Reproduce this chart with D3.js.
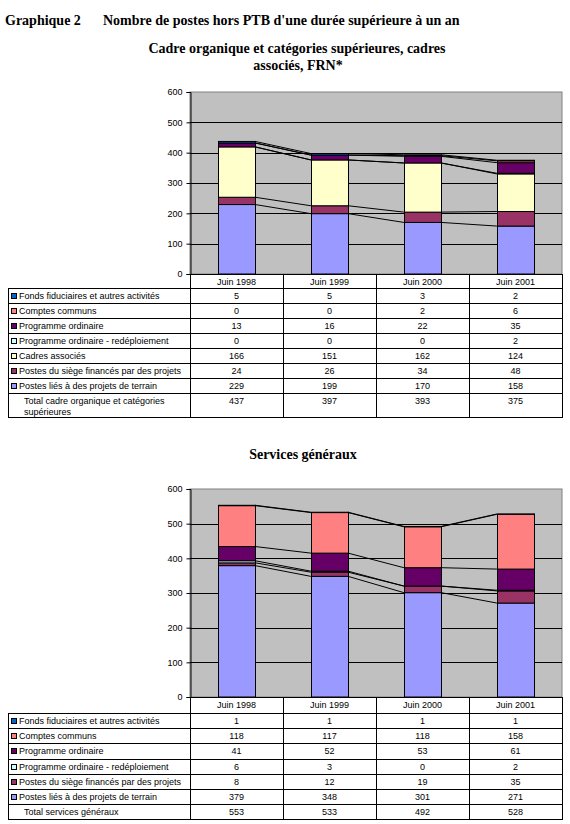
<!DOCTYPE html>
<html><head><meta charset="utf-8">
<script src="https://cdn.jsdelivr.net/npm/d3@7"></script>
<style>
body{margin:0;background:#fff;}
svg{display:block;}
</style></head>
<body>
<script>
const categories = ["Juin 1998","Juin 1999","Juin 2000","Juin 2001"];
const yTicks = [0,100,200,300,400,500,600];

// Panel 1 : Cadre organique et catégories supérieures (stack order bottom -> top)
const p1Names = ["Postes liés à des projets de terrain","Postes du siège financés par des projets","Cadres associés","Programme ordinaire - redéploiement","Programme ordinaire","Comptes communs","Fonds fiduciaires et autres activités"];
const p1Colors = ["#9999FF","#993366","#FFFFCC","#CCFFFF","#660066","#FF8080","#0066CC"];
const p1PostesLies = [229,199,170,158];
const p1PostesSiege = [24,26,34,48];
const p1CadresAssocies = [166,151,162,124];
const p1Redeploiement = [0,0,0,2];
const p1ProgOrdinaire = [13,16,22,35];
const p1ComptesCommuns = [0,0,2,6];
const p1Fonds = [5,5,3,2];
const p1Total = [437,397,393,375];
const p1TotalLabel = ["Total cadre organique et catégories","supérieures"];

// Panel 2 : Services généraux
const p2Names = ["Postes liés à des projets de terrain","Postes du siège financés par des projets","Programme ordinaire - redéploiement","Programme ordinaire","Comptes communs","Fonds fiduciaires et autres activités"];
const p2Colors = ["#9999FF","#993366","#CCFFFF","#660066","#FF8080","#0066CC"];
const p2PostesLies = [379,348,301,271];
const p2PostesSiege = [8,12,19,35];
const p2Redeploiement = [6,3,0,2];
const p2ProgOrdinaire = [41,52,53,61];
const p2ComptesCommuns = [118,117,118,158];
const p2Fonds = [1,1,1,1];
const p2Total = [553,533,492,528];
const p2TotalLabel = ["Total services généraux"];

const W = 570, H = 824;
const svg = d3.select("body").append("svg").attr("width",W).attr("height",H);

const serif = "'Liberation Serif','Times New Roman',serif";
const sans = "'Liberation Sans',Arial,sans-serif";
const fs = 9;

// Titles
svg.append("text").attr("x",5).attr("y",25).attr("font-family",serif).attr("font-weight","bold").attr("font-size",14).text("Graphique 2");
svg.append("text").attr("x",103).attr("y",25).attr("font-family",serif).attr("font-weight","bold").attr("font-size",14).text("Nombre de postes hors PTB d'une durée supérieure à un an");
svg.append("text").attr("x",297).attr("y",53).attr("text-anchor","middle").attr("font-family",serif).attr("font-weight","bold").attr("font-size",14).text("Cadre organique et catégories supérieures, cadres");
svg.append("text").attr("x",298).attr("y",70).attr("text-anchor","middle").attr("font-family",serif).attr("font-weight","bold").attr("font-size",14).text("associés, FRN*");
svg.append("text").attr("x",303).attr("y",459).attr("text-anchor","middle").attr("font-family",serif).attr("font-weight","bold").attr("font-size",14).text("Services généraux");

function panel(cfg){
  const g = svg.append("g");
  const x = d3.scaleBand().domain(categories).range([cfg.left,cfg.right]).paddingInner(0).paddingOuter(0);
  const y = d3.scaleLinear().domain([0,600]).range([cfg.bottom,cfg.top]);
  const bw = x.bandwidth()*0.4;
  // plot background
  g.append("rect").attr("x",cfg.left).attr("y",cfg.top).attr("width",cfg.right-cfg.left).attr("height",cfg.bottom-cfg.top)
    .attr("fill","#C0C0C0").attr("stroke","#808080").attr("stroke-width",1);
  // gridlines
  g.selectAll(".grid").data(yTicks.filter(t=>t>0 && t<600)).join("line")
    .attr("x1",cfg.left).attr("x2",cfg.right).attr("y1",d=>Math.round(y(d))+0.5).attr("y2",d=>Math.round(y(d))+0.5)
    .attr("stroke","#000").attr("stroke-width",1);
  // y axis
  const ax = g.append("g").attr("transform",`translate(${cfg.left+0.5},0)`)
    .call(d3.axisLeft(y).tickValues(yTicks).tickSize(4).tickPadding(4).tickFormat(d3.format("d")));
  ax.select(".domain").attr("stroke","#000");
  ax.selectAll(".tick line").attr("stroke","#000");
  ax.selectAll("text").attr("font-family",sans).attr("font-size",fs).attr("fill","#000");
  // stacked
  const keys = cfg.series.map((s,i)=>i);
  const rows = categories.map((c,j)=>{const o={cat:c}; cfg.series.forEach((s,i)=>o[i]=s[j]); return o;});
  const stacked = d3.stack().keys(keys)(rows);
  // series lines
  for(let j=0;j<categories.length-1;j++){
    stacked.forEach(layer=>{
      const a = layer[j][1], b = layer[j+1][1];
      g.append("line")
        .attr("x1",x(categories[j])+x.bandwidth()/2+bw/2).attr("y1",y(a))
        .attr("x2",x(categories[j+1])+x.bandwidth()/2-bw/2).attr("y2",y(b))
        .attr("stroke","#000").attr("stroke-width",1);
    });
  }
  stacked.forEach((layer,i)=>{
    g.append("g").selectAll("rect").data(layer).join("rect")
      .attr("x",(d,j)=>Math.round(x(categories[j])+x.bandwidth()/2-bw/2)+0.5)
      .attr("y",d=>y(d[1]))
      .attr("width",Math.round(bw))
      .attr("height",d=>Math.max(0,y(d[0])-y(d[1])))
      .attr("fill",cfg.colors[i]).attr("stroke","#000").attr("stroke-width",1);
  });
  // x axis line
  g.append("line").attr("x1",cfg.left).attr("x2",cfg.right).attr("y1",cfg.bottom+0.5).attr("y2",cfg.bottom+0.5).attr("stroke","#000");

  // data table
  const tRows = cfg.series.map((s,i)=>({name:cfg.names[i],color:cfg.colors[i],vals:s})).reverse();
  const tTop = cfg.tableTop, rh = cfg.rowH;
  const tBottom = tTop + tRows.length*rh + cfg.totalH;
  // header labels
  g.selectAll(".hdr").data(categories).join("text")
    .attr("x",d=>x(d)+x.bandwidth()/2).attr("y",cfg.bottom+11).attr("text-anchor","middle")
    .attr("font-family",sans).attr("font-size",fs).text(d=>d);
  // verticals
  const vx = categories.map(c=>x(c)).concat([cfg.right]);
  vx.forEach(v=>g.append("line").attr("x1",Math.round(v)+0.5).attr("x2",Math.round(v)+0.5).attr("y1",cfg.bottom).attr("y2",tBottom).attr("stroke","#000"));
  g.append("line").attr("x1",cfg.tableLeft+0.5).attr("x2",cfg.tableLeft+0.5).attr("y1",tTop).attr("y2",tBottom).attr("stroke","#000");
  // horizontals
  const hy = d3.range(tRows.length+1).map(k=>tTop+k*rh).concat([tBottom]);
  hy.forEach(h=>g.append("line").attr("x1",cfg.tableLeft).attr("x2",cfg.right+1).attr("y1",Math.round(h)+0.5).attr("y2",Math.round(h)+0.5).attr("stroke","#000"));
  tRows.forEach((r,k)=>{
    const ry = tTop + k*rh;
    g.append("rect").attr("x",cfg.tableLeft+3.5).attr("y",Math.round(ry+5)+0.5).attr("width",5).attr("height",5)
      .attr("fill",r.color).attr("stroke","#000").attr("stroke-width",1);
    g.append("text").attr("x",cfg.tableLeft+11).attr("y",ry+11).attr("font-family",sans).attr("font-size",fs).text(r.name);
    r.vals.forEach((v,j)=>g.append("text").attr("x",x(categories[j])+x.bandwidth()/2).attr("y",ry+11)
      .attr("text-anchor","middle").attr("font-family",sans).attr("font-size",fs).text(v));
  });
  const ty = tTop + tRows.length*rh;
  cfg.totalLabel.forEach((t,i)=>g.append("text").attr("x",cfg.tableLeft+16).attr("y",ty+11+i*11).attr("font-family",sans).attr("font-size",fs).text(t));
  cfg.total.forEach((v,j)=>g.append("text").attr("x",x(categories[j])+x.bandwidth()/2).attr("y",ty+11)
      .attr("text-anchor","middle").attr("font-family",sans).attr("font-size",fs).text(v));
}

panel({left:190,right:562,top:92,bottom:274,tableTop:288,tableLeft:8,rowH:15,totalH:24,
  series:[p1PostesLies,p1PostesSiege,p1CadresAssocies,p1Redeploiement,p1ProgOrdinaire,p1ComptesCommuns,p1Fonds],
  names:p1Names,colors:p1Colors,total:p1Total,totalLabel:p1TotalLabel});
panel({left:190,right:562,top:489,bottom:697,tableTop:713,tableLeft:8,rowH:15.2,totalH:15,
  series:[p2PostesLies,p2PostesSiege,p2Redeploiement,p2ProgOrdinaire,p2ComptesCommuns,p2Fonds],
  names:p2Names,colors:p2Colors,total:p2Total,totalLabel:p2TotalLabel});
</script>
</body></html>
